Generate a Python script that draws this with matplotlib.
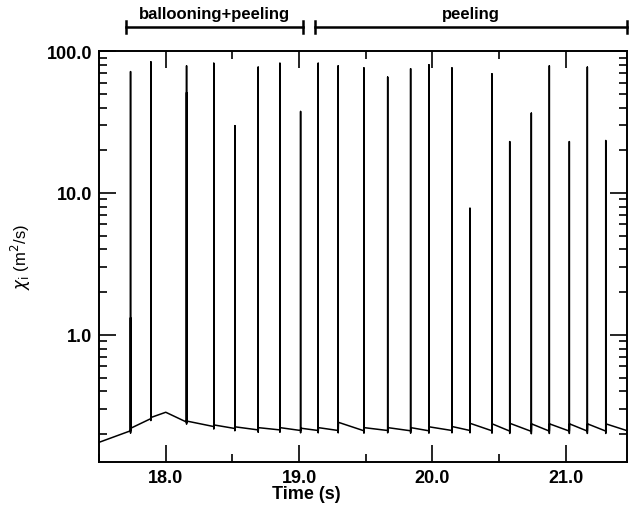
import matplotlib
matplotlib.use("Agg")
import matplotlib.pyplot as plt
import matplotlib.ticker as mticker
import matplotlib.transforms as mtrans

plt.rcParams["font.family"] = ["Liberation Sans", "DejaVu Sans"]

# Spikes (time in s, chi_i in m^2/s)
spike_t = [17.736, 17.888, 18.156, 18.360, 18.518, 18.693, 18.856, 19.011,
           19.143, 19.293, 19.486, 19.664, 19.836, 19.973, 20.146, 20.281,
           20.446, 20.579, 20.741, 20.876, 21.026, 21.161, 21.299]
spike_peak = [71.6, 84.0, 78.6, 82.0, 29.8, 77.0, 82.0, 37.5,
              82.0, 78.6, 76.0, 65.5, 75.0, 80.0, 76.0, 7.8,
              69.0, 23.0, 36.5, 78.6, 23.0, 77.0, 23.4]
spike_sub = [1.32, None, 51.0, None, None, 1.4, None, None,
             None, None, None, None, None, None, None, None,
             5.5, None, None, None, None, None, None]
base_pre = [0.211, 0.257, 0.243, 0.226, 0.219, 0.214, 0.214, 0.212,
            0.212, 0.212, 0.211, 0.212, 0.211, 0.211, 0.212, 0.212,
            0.211, 0.210, 0.209, 0.210, 0.210, 0.210, 0.210]
base_dip = [0.203, 0.249, 0.235, 0.217, 0.211, 0.206, 0.206, 0.204,
            0.204, 0.204, 0.203, 0.204, 0.203, 0.203, 0.204, 0.204,
            0.203, 0.202, 0.201, 0.202, 0.202, 0.202, 0.202]
base_post = [0.220, 0.262, 0.247, 0.232, 0.225, 0.222, 0.222, 0.220,
             0.222, 0.242, 0.222, 0.222, 0.222, 0.225, 0.226, 0.238,
             0.236, 0.238, 0.236, 0.236, 0.236, 0.236, 0.236]

# extra baseline knots (start, ramp top, end)
knot_t = [17.5, 18.0, 21.455, 21.46]
knot_v = [0.175, 0.285, 0.212, 0.203]

# assemble the time trace
pts = [(t, v, 0) for t, v in zip(knot_t, knot_v)]
for i, t in enumerate(spike_t):
    pts.append((t, base_pre[i], 1))
    if spike_sub[i] is not None:
        pts.append((t, spike_sub[i], 2))
        pts.append((t, base_pre[i], 3))
    pts.append((t, spike_peak[i], 4))
    pts.append((t, base_dip[i], 5))
    pts.append((t + 0.002, base_post[i], 6))
pts.sort(key=lambda p: (p[0], p[2]))
tt = [p[0] for p in pts]
vv = [p[1] for p in pts]

fig = plt.figure(figsize=(6.31, 5.10), dpi=100)
ax = fig.add_axes([0.157, 0.092, 0.837, 0.806])
ax.plot(tt, vv, color="black", lw=1.1)

ax.set_yscale("log")
ax.set_xlim(17.5, 21.46)
ax.set_ylim(0.127, 100)

ax.xaxis.set_major_locator(mticker.FixedLocator([18, 19, 20, 21]))
ax.xaxis.set_minor_locator(mticker.MultipleLocator(0.5))
ax.xaxis.set_major_formatter(mticker.FormatStrFormatter("%.1f"))
ax.yaxis.set_major_locator(mticker.FixedLocator([1, 10, 100]))
ax.yaxis.set_major_formatter(mticker.FormatStrFormatter("%.1f"))
ax.yaxis.set_minor_locator(mticker.LogLocator(base=10, subs=range(2, 10)))
ax.yaxis.set_minor_formatter(mticker.NullFormatter())

ax.tick_params(which="both", direction="in", top=True, right=True,
               width=1.2, labelsize=13)
ax.tick_params(which="major", length=12, pad=5)
ax.tick_params(which="minor", length=6)
for lab in ax.get_xticklabels() + ax.get_yticklabels():
    lab.set_fontweight("bold")
for s in ax.spines.values():
    s.set_linewidth(1.4)

ax.set_xlabel("Time (s)", fontsize=13, fontweight="bold", labelpad=0)
ax.xaxis.set_label_coords(0.392, -0.055)
ax.set_ylabel(r"$\chi_{\rm i}$ (m$^2$/s)", fontsize=12, labelpad=10)

# phase brackets above the plot
trans = mtrans.blended_transform_factory(ax.transData, ax.transAxes)
phases = ["ballooning+peeling", "peeling"]
phase_start = [17.70, 19.117]
phase_end = [19.027, 21.455]
for name, a, b in zip(phases, phase_start, phase_end):
    ax.plot([a, b], [1.058, 1.058], color="black", lw=1.8,
            transform=trans, clip_on=False)
    for x in (a, b):
        ax.plot([x, x], [1.044, 1.072], color="black", lw=1.8,
                transform=trans, clip_on=False)
    ax.text((a + b) / 2, 1.092, name, transform=trans, ha="center",
            va="center", fontsize=12, fontweight="bold")

plt.savefig("out.png", dpi=100)
